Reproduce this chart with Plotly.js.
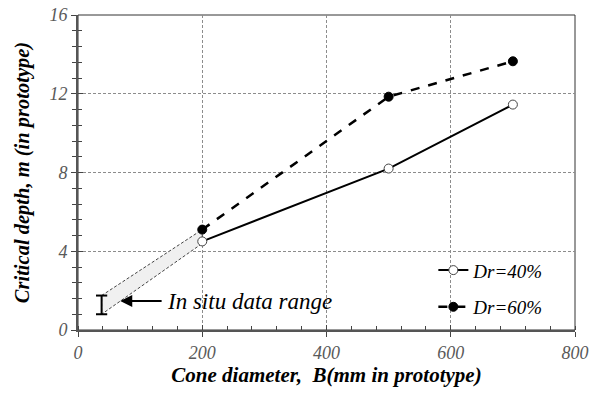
<!DOCTYPE html>
<html>
<head>
<meta charset="utf-8">
<script src="https://cdn.plot.ly/plotly-3.0.1.min.js"></script>
<style>html,body{margin:0;padding:0;background:#fff;}#chart{width:599px;height:393px;}</style>
</head>
<body>
<div id="chart"></div>
<script>
// Data
const diameters = [200, 500, 700];
const depthDr40 = [4.5, 8.2, 11.45];
const depthDr60 = [5.1, 11.85, 13.65];
const seriesNames = ["Dr=40%", "Dr=60%"];
// In situ data range (field measurements)
const insituX = [38, 38];
const insituY = [0.8, 1.75];
// Shaded band from in situ range to model results at B=200 mm
const bandX = [38, 200, 200, 38, 38];
const bandY = [1.75, 5.1, 4.4, 0.8, 1.75];
const arrowTip = [68, 1.47];
const arrowTail = [137, 1.47];
const annotationText = "In situ data range";
const xTitle = "Cone diameter,  B(mm in prototype)";
const yTitle = "Critical depth, m (in prototype)";

const serif = "'Liberation Serif', 'DejaVu Serif', serif";

const traces = [
  {
    x: bandX, y: bandY, type: "scatter", mode: "lines", fill: "toself",
    fillcolor: "#f0f0f0", line: {color: "#444", width: 1, dash: "3px,2px"},
    showlegend: false, hoverinfo: "skip"
  },
  {
    x: diameters, y: depthDr60, type: "scatter", mode: "lines+markers", name: seriesNames[1],
    line: {color: "#000", width: 2.5, dash: "dash"},
    marker: {symbol: "circle", size: 9, color: "#000", line: {color: "#000", width: 1}},
    legendgroup: "b", legendrank: 2
  },
  {
    x: diameters, y: depthDr40, type: "scatter", mode: "lines+markers", name: seriesNames[0],
    line: {color: "#000", width: 2},
    marker: {symbol: "circle", size: 9, color: "#fff", line: {color: "#444", width: 1}},
    legendgroup: "a", legendrank: 1
  },
  {
    x: insituX, y: insituY, type: "scatter", mode: "lines+markers", xaxis: "x2", yaxis: "y2",
    line: {color: "#000", width: 2},
    marker: {symbol: "line-ew", size: 8, line: {color: "#000", width: 2}},
    showlegend: false, hoverinfo: "skip"
  }
];

const tickFont = {family: serif, size: 18, color: "#595959", style: "italic"};
const titleFont = {family: serif, size: 21, color: "#000", weight: "bold", style: "italic"};

const layout = {
  width: 599, height: 393,
  font: {family: serif},
  margin: {l: 78, r: 24, t: 15, b: 63},
  paper_bgcolor: "#fff", plot_bgcolor: "#fff",
  showlegend: true,
  xaxis: {
    range: [0, 800], dtick: 200, tick0: 0,
    showgrid: true, gridcolor: "#8c8c8c", griddash: "3px,2px", gridwidth: 1,
    zeroline: false, showline: true, linecolor: "#555", linewidth: 2,
    ticks: "outside", ticklen: 5, tickwidth: 1, tickcolor: "#444",
    minor: {dtick: 40, ticks: "inside", ticklen: 4, tickcolor: "#444", showgrid: false},
    tickfont: tickFont,
    title: {text: xTitle, font: titleFont, standoff: 6}
  },
  yaxis: {
    range: [0, 16], dtick: 4, tick0: 0,
    showgrid: true, gridcolor: "#8c8c8c", griddash: "3px,2px", gridwidth: 1,
    zeroline: false, showline: true, linecolor: "#555", linewidth: 2,
    ticks: "outside", ticklen: 5, tickwidth: 1, tickcolor: "#444",
    minor: {dtick: 0.8, ticks: "outside", ticklen: 4, tickcolor: "#444", showgrid: false},
    tickfont: tickFont,
    title: {text: yTitle, font: {family: serif, size: 20.5, color: "#000", weight: "bold", style: "italic"}, standoff: 14}
  },
  xaxis2: {
    overlaying: "x", anchor: "y2", range: [0, 800], dtick: 200, tick0: 0,
    showgrid: false, zeroline: false, showticklabels: false,
    ticks: "inside", ticklen: 5, tickwidth: 1, tickcolor: "#444",
    minor: {dtick: 40, ticks: "", showgrid: false}
  },
  yaxis2: {
    overlaying: "y", anchor: "x2", range: [0, 16], dtick: 4, tick0: 0,
    showgrid: false, zeroline: false, showticklabels: false,
    ticks: "inside", ticklen: 5, tickwidth: 1, tickcolor: "#444",
    minor: {dtick: 0.8, ticks: "inside", ticklen: 4, tickcolor: "#444", showgrid: false}
  },
  shapes: [
    {type: "rect", xref: "paper", yref: "paper", x0: 0, x1: 1, y0: 0, y1: 1,
     line: {color: "#333", width: 1}, layer: "below"}
  ],
  legend: {
    x: 0.715, y: 0.25, xanchor: "left", yanchor: "top",
    bgcolor: "rgba(255,255,255,0)", borderwidth: 0,
    font: {family: serif, size: 19, color: "#000", style: "italic"},
    traceorder: "grouped", tracegroupgap: 9
  },
  annotations: [
    {x: arrowTip[0], y: arrowTip[1], ax: arrowTail[0], ay: arrowTail[1],
     xref: "x", yref: "y", axref: "x", ayref: "y", text: "",
     showarrow: true, arrowhead: 2, arrowsize: 1.2, arrowwidth: 2, arrowcolor: "#000"},
    {x: arrowTail[0] + 3, y: arrowTail[1], xref: "x", yref: "y", text: annotationText,
     showarrow: false, xanchor: "left", yanchor: "middle",
     font: {family: serif, size: 23, color: "#000", style: "italic"}}
  ]
};

Plotly.newPlot("chart", traces, layout, {displayModeBar: false, staticPlot: true});
</script>
</body>
</html>
